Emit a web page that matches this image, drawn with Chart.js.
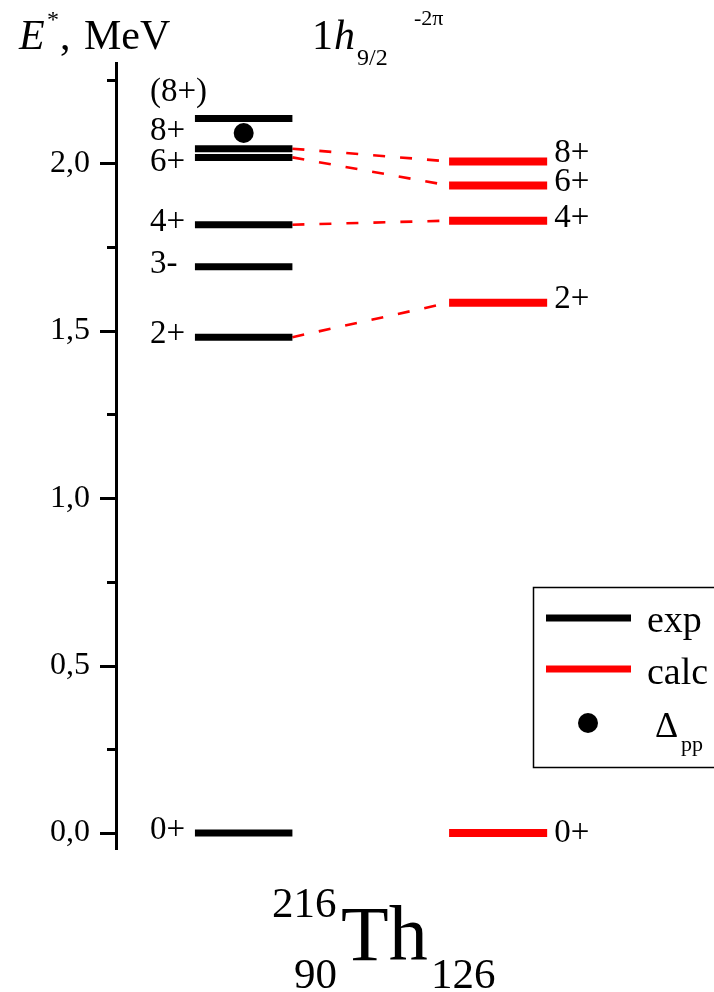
<!DOCTYPE html>
<html>
<head>
<meta charset="utf-8">
<title>216Th levels</title>
<script src="https://cdn.jsdelivr.net/npm/chart.js@4.4.1/dist/chart.umd.min.js"></script>
<style>
  html, body { margin: 0; padding: 0; background: #fff; }
  #chart { display: block; }
</style>
</head>
<body>
<canvas id="chart" width="714" height="992"></canvas>
<script>
// Experimental levels of 216Th (MeV)
const expNames = ["0+", "2+", "3-", "4+", "6+", "8+", "(8+)"];
const expEnergy = [0, 1.481, 1.691, 1.817, 2.018, 2.044, 2.134];
const expLabelEnergy = [0.009, 1.488, 1.698, 1.823, 2.003, 2.095, 2.212];

// Calculated levels, 1h9/2^-2 proton configuration (MeV)
const calcNames = ["0+", "2+", "4+", "6+", "8+"];
const calcEnergy = [0, 1.584, 1.829, 1.934, 2.006];
const calcLabelEnergy = [0, 1.593, 1.836, 1.943, 2.029];

// Delta_pp estimate
const deltaPP = [2.091];

// Levels joined by dashed lines (exp -> calc)
const links = [["2+", "2+"], ["4+", "4+"], ["6+", "6+"], ["8+", "8+"]];

// Column extents on the hidden x axis
const expColumn = [1.32, 2.95];
const calcColumn = [5.57, 7.21];

const yTicks = [0, 0.5, 1.0, 1.5, 2.0];

const SERIF = '"Liberation Serif", "Times New Roman", serif';
const BLACK = "#000000";
const RED = "#ff0000";

function levelDataset(x, e, color, width) {
  return {
    data: [{ x: x[0], y: e }, { x: x[1], y: e }],
    showLine: true,
    borderColor: color,
    borderWidth: width,
    borderCapStyle: "butt",
    pointRadius: 0,
  };
}

const datasets = [];
expEnergy.forEach((e) => datasets.push(levelDataset(expColumn, e, BLACK, 7)));
calcEnergy.forEach((e) => datasets.push(levelDataset(calcColumn, e, RED, 8)));

links.forEach(([a, b]) => {
  const e0 = expEnergy[expNames.indexOf(a)];
  const e1 = calcEnergy[calcNames.indexOf(b)];
  datasets.push({
    data: [{ x: expColumn[1], y: e0 }, { x: calcColumn[0], y: e1 }],
    showLine: true,
    borderColor: RED,
    borderWidth: 2.6,
    borderDash: [12, 15],
    pointRadius: 0,
  });
});

datasets.push({
  data: deltaPP.map((e) => ({ x: (expColumn[0] + expColumn[1]) / 2, y: e })),
  showLine: false,
  pointRadius: 10,
  pointBackgroundColor: BLACK,
  pointBorderWidth: 0,
});

// Tick marks on the energy axis: long at labelled values, short in between
const axisTicks = {
  id: "axisTicks",
  afterDraw(chart) {
    const { ctx, chartArea, scales } = chart;
    const y = scales.y;
    ctx.save();
    ctx.strokeStyle = BLACK;
    ctx.lineWidth = 3;
    y.ticks.forEach((t) => {
      const major = yTicks.some((v) => Math.abs(v - t.value) < 1e-6);
      const len = major ? 16 : 9;
      const py = Math.round(y.getPixelForValue(t.value)) + 0.5;
      ctx.beginPath();
      ctx.moveTo(chartArea.left - len, py);
      ctx.lineTo(chartArea.left, py);
      ctx.stroke();
    });
    ctx.restore();
  },
};

// Spin-parity labels beside the levels
const levelLabels = {
  id: "levelLabels",
  afterDraw(chart) {
    const { ctx, scales } = chart;
    const x = scales.x, y = scales.y;
    ctx.save();
    ctx.fillStyle = BLACK;
    ctx.font = "33px " + SERIF;
    ctx.textBaseline = "middle";
    ctx.textAlign = "left";
    const expLeft = x.getPixelForValue(expColumn[0]) - 45;
    expNames.forEach((n, i) => {
      ctx.fillText(n, expLeft, y.getPixelForValue(expLabelEnergy[i]));
    });
    const calcLeft = x.getPixelForValue(calcColumn[1]) + 7;
    calcNames.forEach((n, i) => {
      ctx.fillText(n, calcLeft, y.getPixelForValue(calcLabelEnergy[i]));
    });
    ctx.restore();
  },
};

// Axis title, configuration and nucleus name
const titles = {
  id: "titles",
  afterDraw(chart) {
    const { ctx } = chart;
    ctx.save();
    ctx.fillStyle = BLACK;
    ctx.textBaseline = "alphabetic";
    ctx.textAlign = "left";

    ctx.font = "italic 42px " + SERIF;
    ctx.fillText("E", 19, 49);
    ctx.font = "24px " + SERIF;
    ctx.fillText("*", 47, 27);
    ctx.font = "42px " + SERIF;
    ctx.fillText(",", 60, 49);
    ctx.fillText("MeV", 84, 49);

    ctx.fillText("1", 312, 49);
    ctx.font = "italic 42px " + SERIF;
    ctx.fillText("h", 334, 49);
    ctx.font = "24px " + SERIF;
    ctx.fillText("9/2", 357, 65);
    ctx.font = "22px " + SERIF;
    ctx.fillText("-2\u03c0", 414, 25);

    ctx.font = "43px " + SERIF;
    ctx.fillText("216", 272, 917);
    ctx.fillText("90", 294, 988);
    ctx.fillText("126", 431, 988);
    ctx.font = "78px " + SERIF;
    ctx.fillText("Th", 341, 960);
    ctx.restore();
  },
};

// Boxed legend: exp, calc, Delta_pp
const legendBox = {
  id: "legendBox",
  afterDraw(chart) {
    const { ctx } = chart;
    ctx.save();
    ctx.strokeStyle = BLACK;
    ctx.lineWidth = 1.5;
    ctx.strokeRect(533.5, 587.5, 200, 180);

    ctx.lineCap = "butt";
    ctx.lineWidth = 7;
    ctx.strokeStyle = BLACK;
    ctx.beginPath();
    ctx.moveTo(546, 618);
    ctx.lineTo(631, 618);
    ctx.stroke();
    ctx.strokeStyle = RED;
    ctx.beginPath();
    ctx.moveTo(546, 669);
    ctx.lineTo(631, 669);
    ctx.stroke();

    ctx.fillStyle = BLACK;
    ctx.beginPath();
    ctx.arc(588, 723, 10, 0, Math.PI * 2);
    ctx.fill();

    ctx.font = "38px " + SERIF;
    ctx.fillText("exp", 647, 632);
    ctx.fillText("calc", 647, 684);
    ctx.font = "36px " + SERIF;
    ctx.fillText("\u0394", 655, 737);
    ctx.font = "22px " + SERIF;
    ctx.fillText("pp", 681, 751);
    ctx.restore();
  },
};

new Chart(document.getElementById("chart"), {
  type: "scatter",
  data: { datasets },
  options: {
    responsive: false,
    devicePixelRatio: 1,
    animation: false,
    layout: { autoPadding: false, padding: { top: 63, bottom: 143, left: 0, right: 0 } },
    plugins: {
      legend: { display: false },
      tooltip: { enabled: false },
    },
    scales: {
      x: { type: "linear", min: 0, max: 10, display: false },
      y: {
        type: "linear",
        min: -0.048,
        max: 2.3,
        afterFit(scale) {
          scale.width = 116;
        },
        grid: { display: false, drawTicks: false },
        border: { display: true, color: BLACK, width: 3 },
        ticks: {
          stepSize: 0.25,
          includeBounds: false,
          padding: 26,
          color: BLACK,
          font: { family: SERIF, size: 32 },
          callback: (v) =>
            yTicks.some((t) => Math.abs(t - v) < 1e-6) ? v.toFixed(1).replace(".", ",") : "",
        },
      },
    },
  },
  plugins: [axisTicks, levelLabels, titles, legendBox],
});
</script>
</body>
</html>
